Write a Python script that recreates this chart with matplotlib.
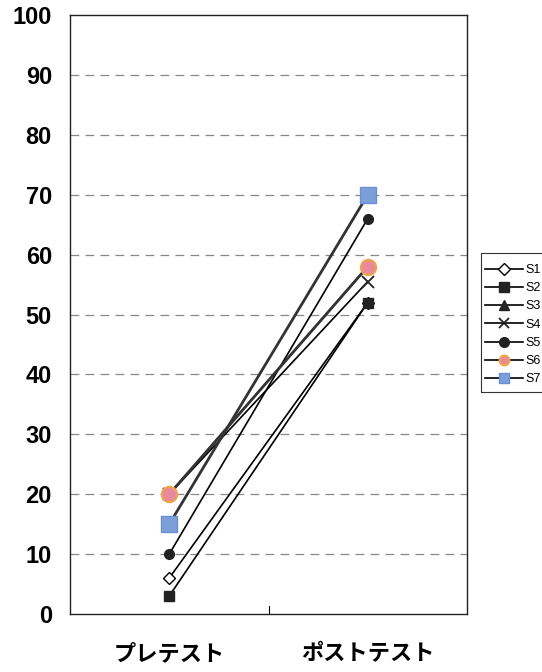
import matplotlib
matplotlib.use("Agg")
import matplotlib.pyplot as plt
from matplotlib.patches import Rectangle

# 学習前後のテスト得点（7名）
phases = ["プレテスト", "ポストテスト"]
students = ["S1", "S2", "S3", "S4", "S5", "S6", "S7"]
pre_scores = [6, 3, 20, 20, 10, 20, 15]
post_scores = [52, 52, 58, 55.5, 66, 58, 70]

y_ticks = [0, 10, 20, 30, 40, 50, 60, 70, 80, 90, 100]

# 系列ごとのマーカー設定
styles = {
    "S1": dict(marker="D", ms=6, mfc="white", mec="black", mew=1.0, color="black", lw=1.2),
    "S2": dict(marker="s", ms=7.5, mfc="#222222", mec="#222222", color="black", lw=1.2),
    "S3": dict(marker="^", ms=7, mfc="#222222", mec="#222222", color="black", lw=1.2),
    "S4": dict(marker="x", ms=9, mew=1.3, mec="#222222", color="black", lw=1.2),
    "S5": dict(marker="o", ms=7, mfc="#222222", mec="#222222", color="black", lw=1.2),
    "S6": dict(marker="o", ms=11, mfc="#e98a9c", mec="#efa448", mew=1.5, color="#333333", lw=2.0),
    "S7": dict(marker="s", ms=12, mfc="#7d9fd9", mec="#6b8fd0", mew=1.0, color="#333333", lw=2.0),
}

W, H = 542, 672
fig = plt.figure(figsize=(W / 100, H / 100), dpi=100)
ax = fig.add_axes([70 / W, 58 / H, 397 / W, 599 / H])

x = [0, 1]
for i, name in enumerate(students):
    ax.plot(x, [pre_scores[i], post_scores[i]], label=name, zorder=3, **styles[name])

ax.set_xlim(-0.5, 1.5)
ax.set_ylim(0, 100)
ax.set_yticks(y_ticks)
ax.set_yticklabels([str(v) for v in y_ticks], fontsize=17, fontweight="bold",
                   family=["Liberation Sans", "DejaVu Sans"])
ax.tick_params(axis="y", length=0, pad=13)

ax.set_xticks(x)
ax.set_xticklabels(phases, fontsize=16, fontweight="bold",
                   family=["Noto Sans CJK JP", "DejaVu Sans"])
ax.tick_params(axis="x", length=0, pad=20)
# 区分線の目盛り
ax.plot([0.5, 0.5], [0, 1.4], color="black", lw=0.8, zorder=2)

for v in y_ticks[1:-1]:
    ax.axhline(v, color="#888888", lw=0.9, ls=(0, (7, 5)), zorder=1)

for s in ax.spines.values():
    s.set_color("#222222")
    s.set_linewidth(1.0)

# 凡例（枠は右端まで伸ばす）
fig.patches.append(Rectangle((481 / W, 1 - 392 / H), 80 / W, 139 / H,
                             transform=fig.transFigure, fill=False,
                             edgecolor="#333333", lw=0.8))
leg = ax.legend(loc="upper left", bbox_to_anchor=(485 / W, 1 - 264 / H),
                bbox_transform=fig.transFigure, frameon=False,
                handlelength=3.0, handletextpad=0.25, labelspacing=0.5,
                borderpad=0, borderaxespad=0,
                prop={"family": ["Liberation Sans Narrow", "Liberation Sans"], "size": 9})
for h in leg.legend_handles:
    h.set_linewidth(1.2)
    h.set_color("black")
    h.set_markersize(min(h.get_markersize(), 7))

fig.savefig("out.png", dpi=100)
